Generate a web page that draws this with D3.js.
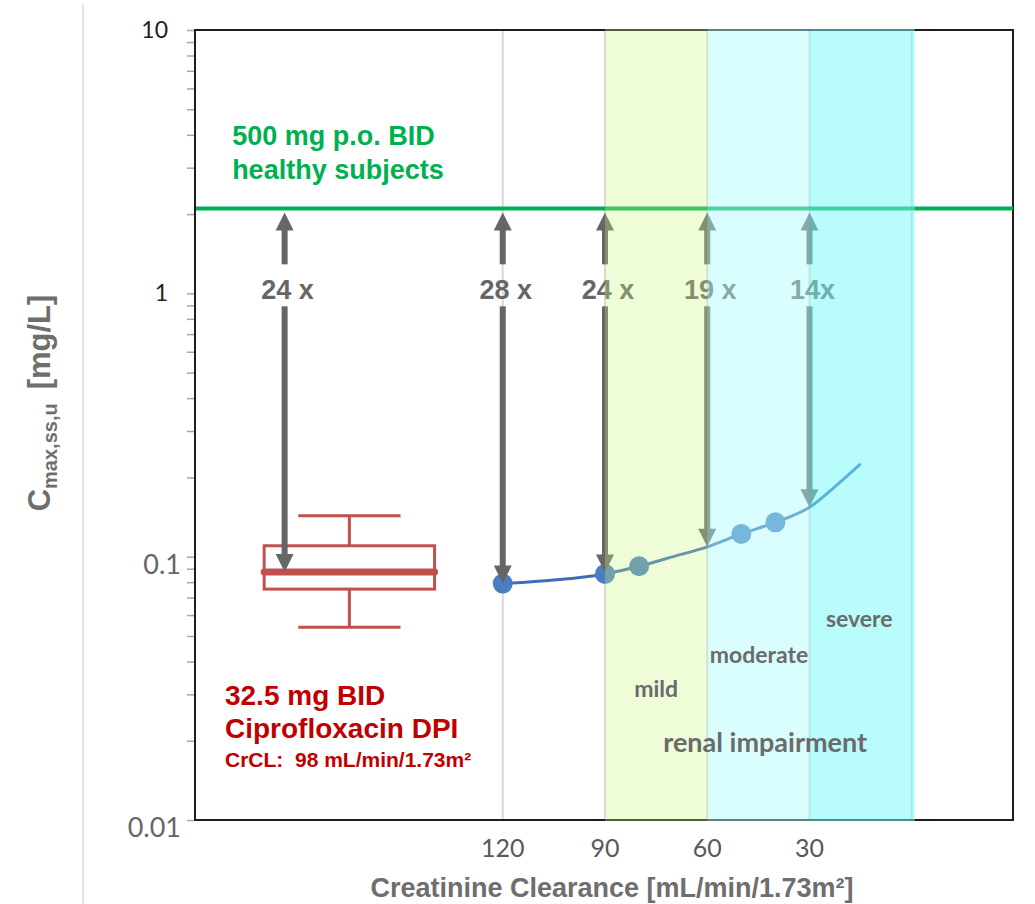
<!DOCTYPE html>
<html lang="en">
<head>
    <meta charset="UTF-8">
    <title>Ciprofloxacin DPI Cmax</title>
    <script src="https://d3js.org/d3.v7.min.js"></script>
    <style>
        body { margin: 0; background: #fff; }
    </style>
</head>
<body>
<script>
    const width  = 1035;
    const height = 904;

    // values
    const crclTicks  = [120, 90, 60, 30];
    const gridCrcl   = [120, 90, 60, 30, 0];
    const concTicks  = [10, 1, 0.1, 0.01];
    const concLabels = ["10", "1", "0.1", "0.01"];

    const healthyCmax = 2.1;

    const curveCrcl = [120, 105, 90, 80, 70, 60, 50, 40, 30, 22, 15];
    const curveConc = [0.079, 0.0815, 0.086, 0.092, 0.100, 0.109, 0.122, 0.135, 0.154, 0.187, 0.225];

    const dotCrcl = [120, 90, 80, 50, 40];
    const dotConc = [0.079, 0.086, 0.092, 0.122, 0.135];

    const boxStats = [0.054, 0.0753, 0.0874, 0.110, 0.143]; // low, q1, median, q3, high

    const arrowCrcl   = [184, 120, 90, 60, 30];
    const arrowConc   = [0.0874, 0.079, 0.087, 0.109, 0.154];
    const arrowLabels = ["24 x", "28 x", "24 x", "19 x", "14x"];

    const bandFrom  = [90, 60, 30];
    const bandTo    = [60, 30, 0];
    const bandNames = ["mild", "moderate", "severe"];

    const x = d3.scaleLinear().domain([210, -30]).range([196, 1014]);
    const y = d3.scaleLog().domain([0.01, 10]).range([820, 30]);

    const svg = d3.select("body").append("svg")
        .attr("width", width)
        .attr("height", height)
        .style("font-family", "'Liberation Sans', Arial, sans-serif");

    // separator on the far left
    svg.append("line")
        .attr("x1", 83).attr("x2", 83)
        .attr("y1", 4).attr("y2", height)
        .attr("stroke", "#c8c8c8").attr("stroke-width", 1);

    // vertical gridlines
    svg.append("g").selectAll("line")
        .data(gridCrcl)
        .join("line")
        .attr("x1", d => x(d)).attr("x2", d => x(d))
        .attr("y1", y(10)).attr("y2", y(0.01))
        .attr("stroke", "#d9d9d9").attr("stroke-width", 2);

    // y ticks (major + minor), no labels
    const yAxis = svg.append("g")
        .attr("transform", "translate(195,0)")
        .call(d3.axisLeft(y).tickValues(y.ticks()).tickSize(8).tickFormat(""));
    yAxis.select(".domain").remove();
    yAxis.selectAll(".tick line").attr("stroke", "#a6a6a6").attr("stroke-width", 1.5);

    // plot frame
    svg.append("rect")
        .attr("x", 195).attr("y", y(10))
        .attr("width", x(-30) - 195 - 1)
        .attr("height", y(0.01) - y(10))
        .attr("fill", "none")
        .attr("stroke", "#1e1e1e").attr("stroke-width", 2);

    // y tick labels
    svg.append("g").selectAll("text")
        .data(concTicks)
        .join("text")
        .attr("x", d => d >= 1 ? 168 : 181)
        .attr("y", d => y(d) + (d >= 1 ? 8 : 17))
        .attr("text-anchor", "end")
        .style("font-family", "Lato, sans-serif")
        .style("font-size", d => d >= 1 ? "23px" : "27px")
        .attr("fill", d => d >= 1 ? "#1e1e1e" : "#666666")
        .text((d, i) => concLabels[i]);

    // x tick labels
    svg.append("g").selectAll("text")
        .data(crclTicks)
        .join("text")
        .attr("x", d => x(d))
        .attr("y", 857)
        .attr("text-anchor", "middle")
        .style("font-family", "Lato, sans-serif")
        .style("font-size", "25px")
        .attr("fill", "#595959")
        .text(d => d);

    // healthy subjects reference line
    svg.append("line")
        .attr("x1", 196).attr("x2", x(-30) - 1)
        .attr("y1", y(healthyCmax)).attr("y2", y(healthyCmax))
        .attr("stroke", "#00b050").attr("stroke-width", 4);

    // renal function curve
    const curveData = curveCrcl.map((c, i) => ({c: c, v: curveConc[i]}));
    const line = d3.line()
        .x(d => x(d.c))
        .y(d => y(d.v))
        .curve(d3.curveMonotoneX);

    svg.append("path")
        .datum(curveData)
        .attr("d", line)
        .attr("fill", "none")
        .attr("stroke", "#3f6db5")
        .attr("stroke-width", 3);

    svg.append("g").selectAll("circle")
        .data(dotCrcl)
        .join("circle")
        .attr("cx", d => x(d))
        .attr("cy", (d, i) => y(dotConc[i]))
        .attr("r", 10)
        .attr("fill", "#4a7ec1");

    // box plot of the DPI dose
    const boxCrcl = 165, boxHalf = 25, capHalf = 15;
    const boxColor = "#c0504d";
    const box = svg.append("g")
        .attr("stroke", boxColor)
        .attr("fill", "none");

    box.append("line")
        .attr("x1", x(boxCrcl)).attr("x2", x(boxCrcl))
        .attr("y1", y(boxStats[4])).attr("y2", y(boxStats[3]))
        .attr("stroke-width", 3);
    box.append("line")
        .attr("x1", x(boxCrcl)).attr("x2", x(boxCrcl))
        .attr("y1", y(boxStats[1])).attr("y2", y(boxStats[0]))
        .attr("stroke-width", 3);
    box.selectAll(".cap")
        .data([boxStats[0], boxStats[4]])
        .join("line")
        .attr("class", "cap")
        .attr("x1", x(boxCrcl + capHalf)).attr("x2", x(boxCrcl - capHalf))
        .attr("y1", d => y(d)).attr("y2", d => y(d))
        .attr("stroke-width", 3);
    box.append("rect")
        .attr("x", x(boxCrcl + boxHalf))
        .attr("y", y(boxStats[3]))
        .attr("width", x(boxCrcl - boxHalf) - x(boxCrcl + boxHalf))
        .attr("height", y(boxStats[1]) - y(boxStats[3]))
        .attr("stroke-width", 3);
    box.append("line")
        .attr("x1", x(boxCrcl + boxHalf)).attr("x2", x(boxCrcl - boxHalf))
        .attr("y1", y(boxStats[2])).attr("y2", y(boxStats[2]))
        .attr("stroke-width", 7)
        .attr("stroke-linecap", "round");

    // fold-difference arrows
    const arrowColor = "#666666";
    const labelBase = y(1) + 6;
    const topTip = y(healthyCmax) + 4;
    const arrows = svg.append("g");

    arrowCrcl.forEach((c, i) => {
        const cx = x(c);
        const tip = y(arrowConc[i]);
        const g = arrows.append("g").attr("fill", arrowColor);
        g.append("path")
            .attr("d", `M${cx},${topTip} L${cx + 9},${topTip + 18} L${cx - 9},${topTip + 18} Z`);
        g.append("rect")
            .attr("x", cx - 3).attr("y", topTip + 17)
            .attr("width", 6).attr("height", (labelBase - 35) - (topTip + 17));
        g.append("rect")
            .attr("x", cx - 3).attr("y", labelBase + 7)
            .attr("width", 6).attr("height", (tip - 17) - (labelBase + 7));
        g.append("path")
            .attr("d", `M${cx - 9},${tip - 18} L${cx + 9},${tip - 18} L${cx},${tip} Z`);
        g.append("text")
            .attr("x", cx + 3).attr("y", labelBase)
            .attr("text-anchor", "middle")
            .style("font-size", "27px")
            .style("font-weight", "bold")
            .text(arrowLabels[i]);
    });

    // renal impairment bands, laid over everything like the original
    const bandFill    = ["#c6f57d", "#adfdfd", "#73f9f9"];
    const bandOpacity = [0.3, 0.45, 0.5];
    svg.append("g").selectAll("rect")
        .data(bandFrom)
        .join("rect")
        .attr("x", d => x(d))
        .attr("y", y(10) - 1)
        .attr("width", (d, i) => x(bandTo[i]) - x(d) + (i === 2 ? 3 : 0))
        .attr("height", y(0.01) - y(10) + 2)
        .attr("fill", (d, i) => bandFill[i])
        .attr("fill-opacity", (d, i) => bandOpacity[i]);

    // band names
    const bandLabelPos = [[75, 0.0293], [44.8, 0.0394], [15.4, 0.054]];
    svg.append("g").selectAll("text")
        .data(bandNames)
        .join("text")
        .attr("x", (d, i) => x(bandLabelPos[i][0]))
        .attr("y", (d, i) => y(bandLabelPos[i][1]))
        .attr("text-anchor", "middle")
        .style("font-family", "Lato, sans-serif")
        .style("font-weight", "bold")
        .style("font-size", "23px")
        .attr("fill", "#6b6b6b")
        .text(d => d);

    svg.append("text")
        .attr("x", x(43)).attr("y", y(0.0181))
        .attr("text-anchor", "middle")
        .style("font-family", "Lato, sans-serif")
        .style("font-weight", "bold")
        .style("font-size", "27px")
        .attr("fill", "#6b6b6b")
        .text("renal impairment");

    // healthy subjects annotation
    svg.append("g").selectAll("text")
        .data(["500 mg p.o. BID", "healthy subjects"])
        .join("text")
        .attr("x", x(199.4))
        .attr("y", (d, i) => y(i === 0 ? 3.66 : 2.72))
        .style("font-size", "27px")
        .style("font-weight", "bold")
        .attr("fill", "#00b050")
        .text(d => d);

    // DPI annotation
    const red = svg.append("g")
        .attr("fill", "#c00000")
        .style("font-weight", "bold");
    red.append("text")
        .attr("x", x(201.5)).attr("y", 705)
        .style("font-size", "28px")
        .text("32.5 mg BID");
    red.append("text")
        .attr("x", x(201.5)).attr("y", 738)
        .style("font-size", "28px")
        .text("Ciprofloxacin DPI");
    red.append("text")
        .attr("x", x(201.5)).attr("y", 767)
        .style("font-size", "21px")
        .attr("xml:space", "preserve")
        .text("CrCL:  98 mL/min/1.73m²");

    // axis titles
    svg.append("text")
        .attr("x", 612).attr("y", 897)
        .attr("text-anchor", "middle")
        .style("font-size", "27px")
        .style("font-weight", "bold")
        .attr("fill", "#6e6e6e")
        .text("Creatinine Clearance [mL/min/1.73m²]");

    const yTitle = svg.append("text")
        .attr("transform", "translate(50,403) rotate(-90)")
        .attr("text-anchor", "middle")
        .style("font-size", "31px")
        .style("font-weight", "bold")
        .attr("fill", "#6e6e6e");
    yTitle.append("tspan").text("C");
    yTitle.append("tspan")
        .attr("dy", 7)
        .style("font-size", "20px")
        .text("max,ss,u");
    yTitle.append("tspan")
        .attr("dy", -7)
        .attr("dx", 14)
        .text("[mg/L]");
</script>
</body>
</html>
